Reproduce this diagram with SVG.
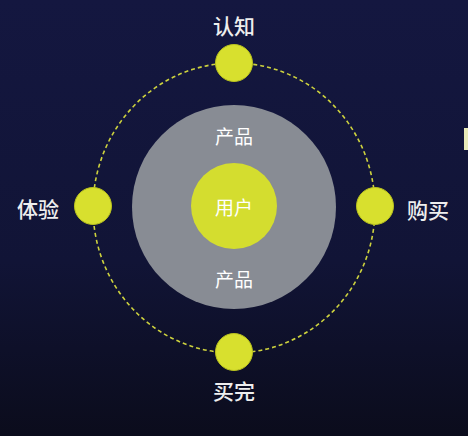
<svg xmlns="http://www.w3.org/2000/svg" width="468" height="436" viewBox="0 0 468 436">
<defs>
<linearGradient id="bg" x1="0" y1="0" x2="0" y2="1">
<stop offset="0" stop-color="#141740"/>
<stop offset="0.6" stop-color="#111436"/>
<stop offset="1" stop-color="#0b0c1c"/>
</linearGradient>
<style>
.dot{fill:#d8e02e;stroke:#b9c21e;stroke-width:1}
.lbl{font-family:"Noto Sans CJK SC","Noto Sans",sans-serif;font-size:21px;font-weight:500;fill:#eeeeee;text-anchor:middle;dominant-baseline:central}
.in{font-family:"Noto Sans CJK SC","Noto Sans",sans-serif;font-size:19px;fill:#ffffff;text-anchor:middle;dominant-baseline:central}
</style>
</defs>
<rect width="468" height="436" fill="url(#bg)"/>
<rect x="464" y="128" width="4" height="22" fill="#e8eab8"/>
<g id="connectors">
<ellipse cx="234" cy="208" rx="141" ry="145" fill="none" stroke="#cdd23e" stroke-width="1.6" stroke-dasharray="4 3"/>
</g>
<g id="product">
<circle cx="234" cy="207" r="102" fill="#888c94"/>
<text class="in" x="234" y="135">产品</text>
<text class="in" x="234" y="278">产品</text>
</g>
<g id="user">
<circle cx="234" cy="206" r="43" fill="#d4dd2f"/>
<text class="in" x="234" y="206">用户</text>
</g>
<g id="cognition">
<circle class="dot" cx="234" cy="63" r="18.5"/>
<text class="lbl" x="234" y="25">认知</text>
</g>
<g id="experience">
<circle class="dot" cx="93" cy="206" r="18.5"/>
<text class="lbl" x="38" y="208">体验</text>
</g>
<g id="purchase">
<circle class="dot" cx="375" cy="206" r="18.5"/>
<text class="lbl" x="428" y="209">购买</text>
</g>
<g id="after">
<circle class="dot" cx="234" cy="352" r="18.5"/>
<text class="lbl" x="234" y="390">买完</text>
</g>
</svg>
